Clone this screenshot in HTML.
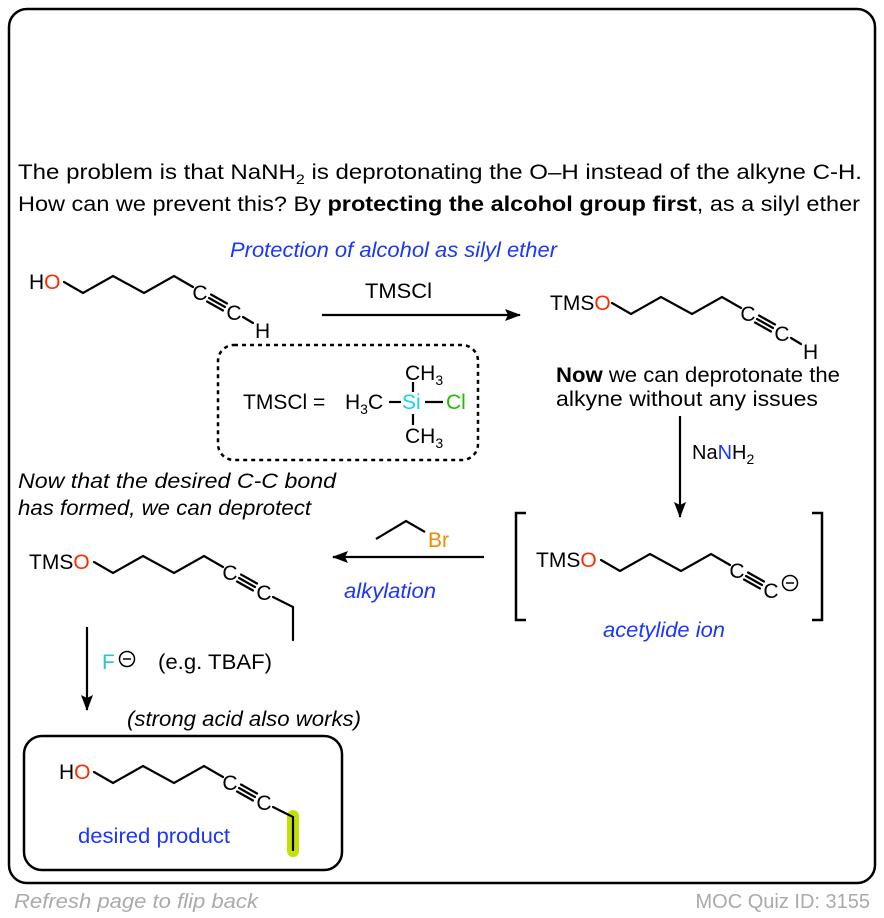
<!DOCTYPE html>
<html><head><meta charset="utf-8"><style>
html,body{margin:0;padding:0;background:#fff;}
svg{display:block;font-family:"Liberation Sans",Arial,sans-serif;}
</style></head><body>
<svg width="884" height="918" viewBox="0 0 884 918" xmlns="http://www.w3.org/2000/svg">
<defs>
<marker id="ah2" viewBox="0 0 16 12" refX="15" refY="6" markerWidth="16" markerHeight="12" markerUnits="userSpaceOnUse" orient="auto">
<path d="M0,0 L16,6 L0,12 L3,6 z" fill="#000"/></marker>
</defs>
<rect x="9" y="9" width="866" height="874" rx="18" fill="none" stroke="#000" stroke-width="2.5"/>

<g font-size="21" fill="#000">
<text x="18" y="179" textLength="844" lengthAdjust="spacingAndGlyphs">The problem is that NaNH<tspan font-size="14" dy="5">2</tspan><tspan dy="-5"> is deprotonating the O–H instead of the alkyne C-H.</tspan></text>
<text x="18" y="211" textLength="842" lengthAdjust="spacingAndGlyphs">How can we prevent this? By <tspan font-weight="bold">protecting the alcohol group first</tspan>, as a silyl ether</text>
</g>
<text x="230" y="257" font-size="21" font-style="italic" fill="#1a35ff" textLength="327" lengthAdjust="spacingAndGlyphs">Protection of alcohol as silyl ether</text>

<!-- Molecule 1 -->
<g stroke="#000" stroke-width="2.2" fill="none" stroke-linecap="round">
<polyline points="64,282 83,293 113,276 144,293 174,276 193,287"/>
<line x1="207" y1="301.5" x2="223" y2="310.5"/>
<line x1="209" y1="298" x2="225" y2="307"/>
<line x1="211" y1="294.5" x2="227" y2="303.5"/>
<line x1="243" y1="317" x2="253" y2="323"/>
</g>
<g font-size="21" text-anchor="middle">
<text x="200" y="300">C</text><text x="234" y="320">C</text>
</g>
<text x="29" y="289" font-size="21">H<tspan fill="#ff2a00">O</tspan></text>
<text x="255" y="338" font-size="21">H</text>

<!-- arrow TMSCl -->
<line x1="322" y1="315" x2="520" y2="315" stroke="#000" stroke-width="2.2" marker-end="url(#ah2)"/>
<text x="365" y="298" font-size="21" textLength="67" lengthAdjust="spacingAndGlyphs">TMSCl</text>

<!-- Molecule 2 -->
<g transform="translate(548,21)">
<g stroke="#000" stroke-width="2.2" fill="none" stroke-linecap="round">
<polyline points="64,282 83,293 113,276 144,293 174,276 193,287"/>
<line x1="207" y1="301.5" x2="223" y2="310.5"/><line x1="209" y1="298" x2="225" y2="307"/><line x1="211" y1="294.5" x2="227" y2="303.5"/>
<line x1="243" y1="317" x2="253" y2="323"/>
</g>
<g font-size="21" text-anchor="middle"><text x="200" y="300">C</text><text x="234" y="320">C</text></g>
<text x="255" y="338" font-size="21">H</text>
</g>
<text x="550" y="310" font-size="21">TMS<tspan fill="#ff2a00">O</tspan></text>

<!-- dashed box -->
<rect x="218" y="345" width="260" height="115" rx="16" fill="none" stroke="#000" stroke-width="2.5" stroke-dasharray="4,4"/>
<g font-size="21">
<text x="243" y="409">TMSCl =</text>
<text x="345" y="409">H<tspan font-size="14" dy="5">3</tspan><tspan dy="-5">C</tspan></text>
<text x="402" y="409" fill="#18d0f0">Si</text>
<text x="446" y="409" fill="#22bb00">Cl</text>
<text x="405" y="380">CH<tspan font-size="14" dy="5">3</tspan></text>
<text x="405" y="443">CH<tspan font-size="14" dy="5">3</tspan></text>
</g>
<g stroke="#000" stroke-width="2.2">
<line x1="389" y1="402" x2="401" y2="402"/>
<line x1="425" y1="402" x2="443" y2="402"/>
<line x1="413" y1="382" x2="413" y2="392"/>
<line x1="413" y1="414" x2="413" y2="425"/>
</g>

<g font-size="21">
<text x="556" y="382" textLength="284" lengthAdjust="spacingAndGlyphs"><tspan font-weight="bold">Now</tspan> we can deprotonate the</text>
<text x="556" y="406" textLength="262" lengthAdjust="spacingAndGlyphs">alkyne without any issues</text>
</g>

<!-- NaNH2 arrow -->
<line x1="680" y1="416" x2="680" y2="517" stroke="#000" stroke-width="2.2" marker-end="url(#ah2)"/>
<text x="692" y="459" font-size="20">Na<tspan fill="#1a35ff">N</tspan>H<tspan font-size="14" dy="5">2</tspan></text>

<!-- brackets -->
<polyline points="526,513 516,513 516,620 526,620" fill="none" stroke="#000" stroke-width="2.5"/>
<polyline points="812,513 822,513 822,620 812,620" fill="none" stroke="#000" stroke-width="2.5"/>
<g transform="translate(537,278)">
<g stroke="#000" stroke-width="2.2" fill="none" stroke-linecap="round">
<polyline points="64,282 83,293 113,276 144,293 174,276 193,287"/>
<line x1="207" y1="301.5" x2="223" y2="310.5"/><line x1="209" y1="298" x2="225" y2="307"/><line x1="211" y1="294.5" x2="227" y2="303.5"/>
</g>
<g font-size="21" text-anchor="middle"><text x="200" y="300">C</text><text x="234" y="320">C</text></g>
<circle cx="253" cy="305" r="7.5" fill="none" stroke="#000" stroke-width="1.5"/>
<line x1="249" y1="305" x2="257" y2="305" stroke="#000" stroke-width="1.5"/>
</g>
<text x="536" y="567" font-size="21">TMS<tspan fill="#ff2a00">O</tspan></text>
<text x="603" y="637" font-size="21" font-style="italic" fill="#1a35ff" textLength="122" lengthAdjust="spacingAndGlyphs">acetylide ion</text>

<!-- alkylation arrow -->
<line x1="484" y1="557" x2="333" y2="557" stroke="#000" stroke-width="2.2" marker-end="url(#ah2)"/>
<polyline points="376,539 406,521 425,532" fill="none" stroke="#000" stroke-width="2.2"/>
<text x="428" y="547" font-size="21" fill="#f08a00">Br</text>
<text x="344" y="598" font-size="21" font-style="italic" fill="#1a35ff" textLength="92" lengthAdjust="spacingAndGlyphs">alkylation</text>

<g font-size="21" font-style="italic">
<text x="18" y="488" textLength="318" lengthAdjust="spacingAndGlyphs">Now that the desired C-C bond</text>
<text x="18" y="515" textLength="293" lengthAdjust="spacingAndGlyphs">has formed, we can deprotect</text>
</g>

<!-- Molecule 3 -->
<g transform="translate(30,280)">
<g stroke="#000" stroke-width="2.2" fill="none" stroke-linecap="round">
<polyline points="64,282 83,293 113,276 144,293 174,276 193,287"/>
<line x1="207" y1="301.5" x2="223" y2="310.5"/><line x1="209" y1="298" x2="225" y2="307"/><line x1="211" y1="294.5" x2="227" y2="303.5"/>
<polyline points="243,317 263,327 263,360"/>
</g>
<g font-size="21" text-anchor="middle"><text x="200" y="300">C</text><text x="234" y="320">C</text></g>
</g>
<text x="29" y="569" font-size="21">TMS<tspan fill="#ff2a00">O</tspan></text>

<!-- F arrow -->
<line x1="87" y1="627" x2="87" y2="710" stroke="#000" stroke-width="2.2" marker-end="url(#ah2)"/>
<text x="102" y="669" font-size="21" fill="#25c8c8">F</text>
<circle cx="127" cy="659" r="7.5" fill="none" stroke="#000" stroke-width="1.5"/>
<line x1="123" y1="659" x2="131" y2="659" stroke="#000" stroke-width="1.5"/>
<text x="158" y="669" font-size="21" textLength="114" lengthAdjust="spacingAndGlyphs">(e.g. TBAF)</text>
<text x="127" y="726" font-size="21" font-style="italic" textLength="234" lengthAdjust="spacingAndGlyphs">(strong acid also works)</text>

<!-- product box -->
<rect x="24" y="736" width="318" height="134" rx="18" fill="none" stroke="#000" stroke-width="2.5"/>
<rect x="287" y="810" width="12" height="47" rx="6" fill="#c3e000"/>
<g transform="translate(30,490)">
<g stroke="#000" stroke-width="2.2" fill="none" stroke-linecap="round">
<polyline points="64,282 83,293 113,276 144,293 174,276 193,287"/>
<line x1="207" y1="301.5" x2="223" y2="310.5"/><line x1="209" y1="298" x2="225" y2="307"/><line x1="211" y1="294.5" x2="227" y2="303.5"/>
<polyline points="243,317 263,327 263,360"/>
</g>
<g font-size="21" text-anchor="middle"><text x="200" y="300">C</text><text x="234" y="320">C</text></g>
</g>
<text x="59" y="779" font-size="21">H<tspan fill="#ff2a00">O</tspan></text>
<text x="78" y="843" font-size="21" fill="#1a35ff" textLength="152" lengthAdjust="spacingAndGlyphs">desired product</text>

<text x="14" y="908" font-size="20" font-style="italic" fill="#aaa" textLength="244" lengthAdjust="spacingAndGlyphs">Refresh page to flip back</text>
<text x="870" y="908" font-size="20" fill="#aaa" text-anchor="end">MOC Quiz ID: 3155</text>
</svg>
</body></html>
